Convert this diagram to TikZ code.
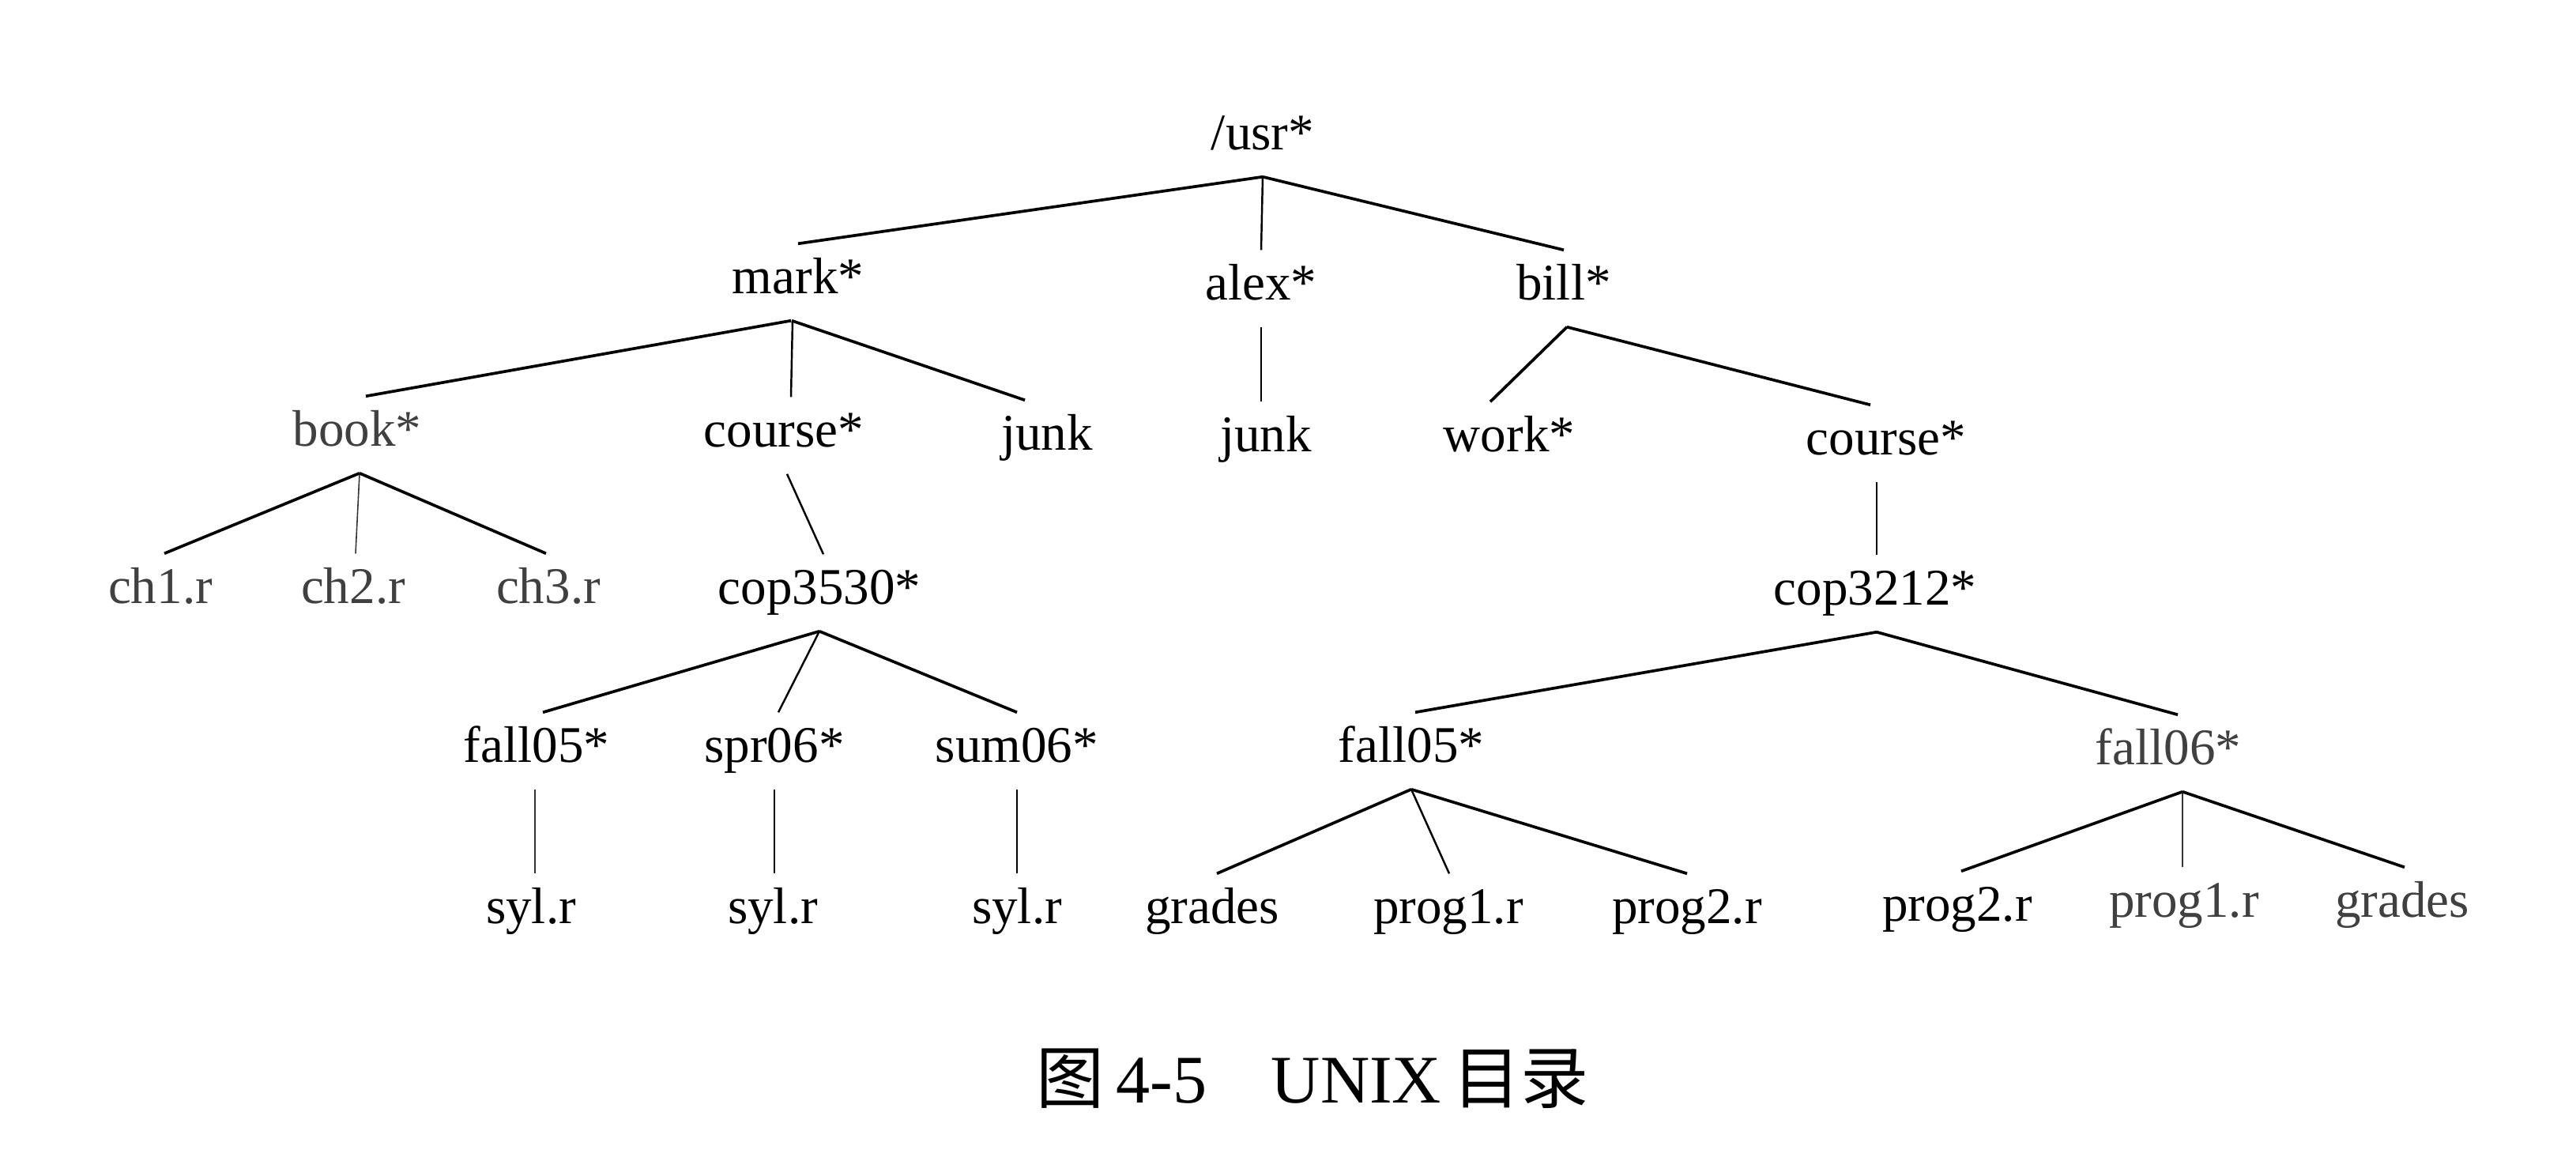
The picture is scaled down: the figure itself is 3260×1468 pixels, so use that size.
\documentclass[tikz,border=0pt]{standalone}
\usepackage{fontspec}
\setmainfont{Liberation Serif}
\newfontfamily\cjk{Noto Sans CJK SC}
\usetikzlibrary{calc}
\tikzset{
  lbl/.style={anchor=base, inner xsep=0pt, inner ysep=0.2cm, text height=0.42cm, text depth=0.14cm,
    font=\fontsize{18.5pt}{22pt}\selectfont},
  pale/.style={text=black!75},
  thk/.style={line width=1.05pt},
  med/.style={line width=0.7pt},
  thn/.style={line width=0.45pt, draw=black!80},
}
\begin{document}
\begin{tikzpicture}[x=0.01cm, y=-0.01cm]
\fill[white] (0,0) rectangle (3260,1468);
\useasboundingbox (0,0) rectangle (3260,1468);
% level 0
\node[lbl] (usr) at (1598,189) {/usr*};
% level 1
\node[lbl] (mark) at (1010,371) {mark*};
\node[lbl] (alex) at (1596,379) {alex*};
\node[lbl] (bill) at (1979,379) {bill*};
% level 2
\node[lbl,pale] (book) at (452,564) {book*};
\node[lbl] (courseA) at (992,565) {course*};
\node[lbl] (junkA) at (1325,569) {junk};
\node[lbl] (junkB) at (1602,571) {junk};
\node[lbl] (work) at (1910,571) {work*};
\node[lbl] (courseB) at (2387,575) {course*};
% level 3
\node[lbl,pale] (ch1) at (203,763) {ch1.r};
\node[lbl,pale] (ch2) at (447,763) {ch2.r};
\node[lbl,pale] (ch3) at (694,763) {ch3.r};
\node[lbl] (cop3530) at (1037,764) {cop3530*};
\node[lbl] (cop3212) at (2373,765) {cop3212*};
% level 4
\node[lbl] (fallA) at (679,964) {fall05*};
\node[lbl] (spr) at (980,964) {spr06*};
\node[lbl] (sum) at (1287,964) {sum06*};
\node[lbl] (fallB) at (1786,964) {fall05*};
\node[lbl,pale] (fallC) at (2744,967) {fall06*};
% level 5
\node[lbl] (sylA) at (672,1168) {syl.r};
\node[lbl] (sylB) at (978,1168) {syl.r};
\node[lbl] (sylC) at (1287,1168) {syl.r};
\node[lbl] (gradesA) at (1534,1168) {grades};
\node[lbl] (prog1A) at (1833,1168) {prog1.r};
\node[lbl] (prog2A) at (2135,1168) {prog2.r};
\node[lbl] (prog2B) at (2477,1165) {prog2.r};
\node[lbl,pale] (prog1B) at (2764,1160) {prog1.r};
\node[lbl,pale] (gradesB) at (3040,1160) {grades};
% caption
\node[anchor=base west, inner sep=0pt, font=\fontsize{24.5pt}{28pt}\selectfont] (cap) at (1311,1395)
  {{\cjk 图}\,4-5\hspace{0.95em}UNIX\,{\cjk 目录}};
% connectors
\draw[thk] (usr.south) -- (mark.north);
\draw[med] (usr.south) -- (alex.north);
\draw[thk] (usr.south) -- (bill.north);
\draw[thk] ($(mark.south)+(-9,0)$) -- ($(book.north)+(11,0)$);
\draw[med] ($(mark.south)+(-7,0)$) -- ($(courseA.north)+(9,0)$);
\draw[thk] ($(mark.south)+(-8,0)$) -- ($(junkA.north)+(-28,0)$);
\draw[med] (alex.south) -- ($(junkB.north)+(-6,0)$);
\draw[thk] ($(bill.south)+(4,0)$) -- ($(work.north)+(-24,0)$);
\draw[thk] ($(bill.south)+(4,0)$) -- ($(courseB.north)+(-20,0)$);
\draw[thk] ($(book.south)+(3,0)$) -- ($(ch1.north)+(5,0)$);
\draw[thn] ($(book.south)+(3,0)$) -- ($(ch2.north)+(3,0)$);
\draw[thk] ($(book.south)+(3,0)$) -- ($(ch3.north)+(-3,0)$);
\draw[med] ($(courseA.south)+(4,0)$) -- ($(cop3530.north)+(5,0)$);
\draw[med] ($(courseB.south)+(-12,0)$) -- ($(cop3212.north)+(2,0)$);
\draw[thk] (cop3530.south) -- ($(fallA.north)+(8,0)$);
\draw[med] (cop3530.south) -- ($(spr.north)+(5,0)$);
\draw[thk] (cop3530.south) -- (sum.north);
\draw[thk] ($(cop3212.south)+(2,0)$) -- ($(fallB.north)+(5,0)$);
\draw[thk] ($(cop3212.south)+(2,0)$) -- ($(fallC.north)+(12,0)$);
\draw[thn] ($(fallA.south)+(-2,0)$) -- ($(sylA.north)+(5,0)$);
\draw[med] (spr.south) -- ($(sylB.north)+(2,0)$);
\draw[med] (sum.south) -- (sylC.north);
\draw[thk] (fallB.south) -- ($(gradesA.north)+(6,0)$);
\draw[med] (fallB.south) -- ($(prog1A.north)+(1,0)$);
\draw[thk] (fallB.south) -- (prog2A.north);
\draw[thk] ($(fallC.south)+(18,0)$) -- ($(prog2B.north)+(5,0)$);
\draw[thn] ($(fallC.south)+(18,0)$) -- ($(prog1B.north)+(-2,0)$);
\draw[thk] ($(fallC.south)+(18,0)$) -- ($(gradesB.north)+(3,0)$);
\end{tikzpicture}
\end{document}
